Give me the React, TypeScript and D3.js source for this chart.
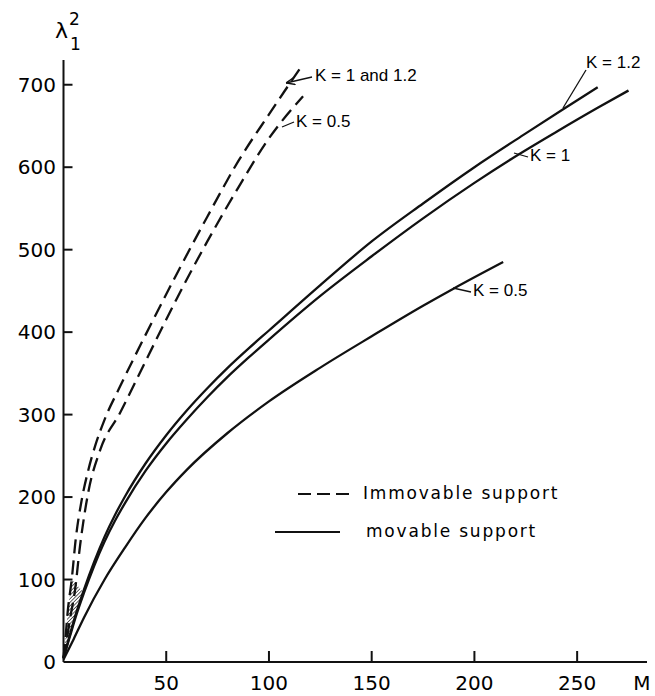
import React, { useRef, useEffect } from "react";
import * as d3 from "d3";

// tick labels
const xTicks = [50, 100, 150, 200, 250];
const yTicks = [0, 100, 200, 300, 400, 500, 600, 700];

// movable support (solid)
const solidK12M = [0, 3, 6, 10, 15, 20, 25, 30, 40, 50, 60, 70, 80, 90, 100, 125, 150, 175, 200, 225, 243, 260];
const solidK12L = [5, 32, 58, 88, 122, 152, 178, 201, 241, 275, 305, 332, 357, 380, 402, 457, 510, 556, 600, 641, 670, 697];
const solidK1M = [0, 3, 6, 10, 15, 20, 25, 30, 40, 50, 60, 70, 80, 90, 100, 125, 150, 175, 200, 218, 240, 260, 275];
const solidK1L = [5, 30, 55, 84, 117, 146, 171, 193, 232, 265, 294, 321, 346, 369, 391, 444, 492, 538, 581, 610, 643, 672, 693];
const solidK05M = [0, 5, 10, 20, 30, 40, 50, 60, 80, 100, 125, 150, 175, 190, 214];
const solidK05L = [3, 28, 54, 100, 139, 175, 206, 233, 278, 316, 357, 395, 432, 453, 485];

// immovable support (dashed)
const dashK1M = [0, 1, 2, 4, 6, 8.9, 12, 15.4, 20, 27.5, 40, 55, 70, 85, 100, 107.8, 116.6];
const dashK1L = [5, 30, 60, 100, 150, 197, 232, 262, 294, 334, 397, 470, 540, 607, 664, 693, 725];
const dashK05M = [0, 1.5, 3, 5.6, 8, 12, 18, 27.5, 40, 55, 70, 85, 100, 116.6];
const dashK05L = [5, 25, 50, 87, 140, 205, 258, 302, 365, 440, 510, 575, 635, 686];

const zip = (ms: number[], ls: number[]) => ms.map((m, i) => [m, ls[i]] as [number, number]);

const App = () => {
  const svgRef = useRef<SVGSVGElement>(null);

  useEffect(() => {
    const width = 655;
    const height = 696;
    const svg = d3.select(svgRef.current);
    svg.selectAll("*").remove();
    svg.attr("width", width).attr("height", height)
      .style("font-family", "'DejaVu Sans', sans-serif");

    const x = d3.scaleLinear().domain([0, 284]).range([63.5, 647]);
    const y = d3.scaleLinear().domain([0, 730]).range([662, 60]);

    const line = d3.line<[number, number]>()
      .x(d => x(d[0]))
      .y(d => y(d[1]))
      .curve(d3.curveMonotoneX);

    // hatched wedge near origin, between the dashed and the solid curves
    const defs = svg.append("defs");
    const pat = defs.append("pattern")
      .attr("id", "hatch")
      .attr("width", 2.5).attr("height", 2.5)
      .attr("patternUnits", "userSpaceOnUse")
      .attr("patternTransform", "rotate(45)");
    pat.append("line").attr("x1", 0).attr("y1", 0).attr("x2", 0).attr("y2", 2.5)
      .attr("stroke", "#222").attr("stroke-width", 1.4);
    const wedge = [
      ...zip(solidK1M, solidK1L).filter(d => d[0] <= 10),
      ...zip(dashK1M, dashK1L).filter(d => d[0] <= 4).reverse()
    ];
    svg.append("path")
      .attr("d", d3.line<[number, number]>().x(d => x(d[0])).y(d => y(d[1]))(wedge) + "Z")
      .attr("fill", "url(#hatch)");

    // axes
    const axisG = svg.append("g").attr("stroke", "#111").attr("stroke-width", 2).attr("fill", "none");
    axisG.append("line").attr("x1", x(0)).attr("x2", x(0)).attr("y1", y(0)).attr("y2", y(730));
    axisG.append("line").attr("x1", x(0)).attr("x2", x(284)).attr("y1", y(0)).attr("y2", y(0));
    axisG.selectAll(".xt").data(xTicks).join("line")
      .attr("x1", d => x(d)).attr("x2", d => x(d))
      .attr("y1", y(0)).attr("y2", y(0) - 11);
    axisG.selectAll(".yt").data(yTicks.slice(1)).join("line")
      .attr("x1", x(0)).attr("x2", x(0) + 9)
      .attr("y1", d => y(d)).attr("y2", d => y(d));

    svg.append("g").selectAll("text").data(xTicks).join("text")
      .attr("x", d => x(d)).attr("y", 690)
      .attr("text-anchor", "middle")
      .style("font-size", "20px")
      .text(d => d);
    svg.append("g").selectAll("text").data(yTicks).join("text")
      .attr("x", 56).attr("y", d => y(d) + 7)
      .attr("text-anchor", "end")
      .style("font-size", "20px")
      .text(d => d);

    svg.append("text").attr("x", 642).attr("y", 690)
      .attr("text-anchor", "middle").style("font-size", "20px").text("M");

    const lam = svg.append("text").attr("x", 55).attr("y", 38).style("font-size", "22px");
    lam.append("tspan").text("λ");
    lam.append("tspan").attr("x", 70).attr("y", 50).style("font-size", "17px").text("1");
    lam.append("tspan").attr("x", 69).attr("y", 25).style("font-size", "17px").text("2");

    // curves
    const curves = [
      { m: solidK12M, l: solidK12L, dash: null },
      { m: solidK1M, l: solidK1L, dash: null },
      { m: solidK05M, l: solidK05L, dash: null },
      { m: dashK1M, l: dashK1L, dash: "14 7" },
      { m: dashK05M, l: dashK05L, dash: "14 7" }
    ];
    svg.append("g").selectAll("path").data(curves).join("path")
      .attr("d", d => line(zip(d.m, d.l)))
      .attr("fill", "none")
      .attr("stroke", "#111")
      .attr("stroke-width", 2.3)
      .attr("stroke-dasharray", d => d.dash);

    // annotations
    defs.append("marker").attr("id", "arrow")
      .attr("viewBox", "0 0 10 10").attr("refX", 10).attr("refY", 5)
      .attr("markerWidth", 7).attr("markerHeight", 7).attr("orient", "auto")
      .append("path").attr("d", "M0,1 L10,5 L0,9").attr("fill", "none").attr("stroke", "#111").attr("stroke-width", 1.5);

    const notes = [
      { t: "K = 1 and 1.2", tx: 315, ty: 77, lx1: 312, ly1: 77, lx2: 286, ly2: 83, arrow: true },
      { t: "K = 0.5", tx: 296, ty: 123, lx1: 294, ly1: 122, lx2: 282, ly2: 127, arrow: false },
      { t: "K = 1.2", tx: 586, ty: 64, lx1: 586, ly1: 70, lx2: 563, ly2: 108, arrow: false },
      { t: "K = 1", tx: 530, ty: 157, lx1: 528, ly1: 157, lx2: 514, ly2: 153, arrow: false },
      { t: "K = 0.5", tx: 473, ty: 292, lx1: 471, ly1: 292, lx2: 453, ly2: 288, arrow: false }
    ];
    const ng = svg.append("g").style("font-family", "'Liberation Sans', sans-serif");
    ng.selectAll("line").data(notes).join("line")
      .attr("x1", d => d.lx1).attr("y1", d => d.ly1)
      .attr("x2", d => d.lx2).attr("y2", d => d.ly2)
      .attr("stroke", "#111").attr("stroke-width", 1.3)
      .attr("marker-end", d => d.arrow ? "url(#arrow)" : null);
    ng.selectAll("text").data(notes).join("text")
      .attr("x", d => d.tx).attr("y", d => d.ty)
      .attr("dominant-baseline", "middle")
      .style("font-size", "17px")
      .text(d => d.t);

    // legend
    const lg = svg.append("g").style("font-size", "17px").style("letter-spacing", "1.8px");
    lg.append("line").attr("x1", 298).attr("x2", 352).attr("y1", 494).attr("y2", 494)
      .attr("stroke", "#111").attr("stroke-width", 2).attr("stroke-dasharray", "13 6");
    lg.append("text").attr("x", 363).attr("y", 494).attr("dominant-baseline", "middle").text("Immovable support");
    lg.append("line").attr("x1", 275).attr("x2", 340).attr("y1", 532).attr("y2", 532)
      .attr("stroke", "#111").attr("stroke-width", 2);
    lg.append("text").attr("x", 366).attr("y", 532).attr("dominant-baseline", "middle").text("movable support");
  }, []);

  return <svg ref={svgRef} style={{ position: "absolute", left: 0, top: 0, background: "#fff" }} />;
};

export default App;
